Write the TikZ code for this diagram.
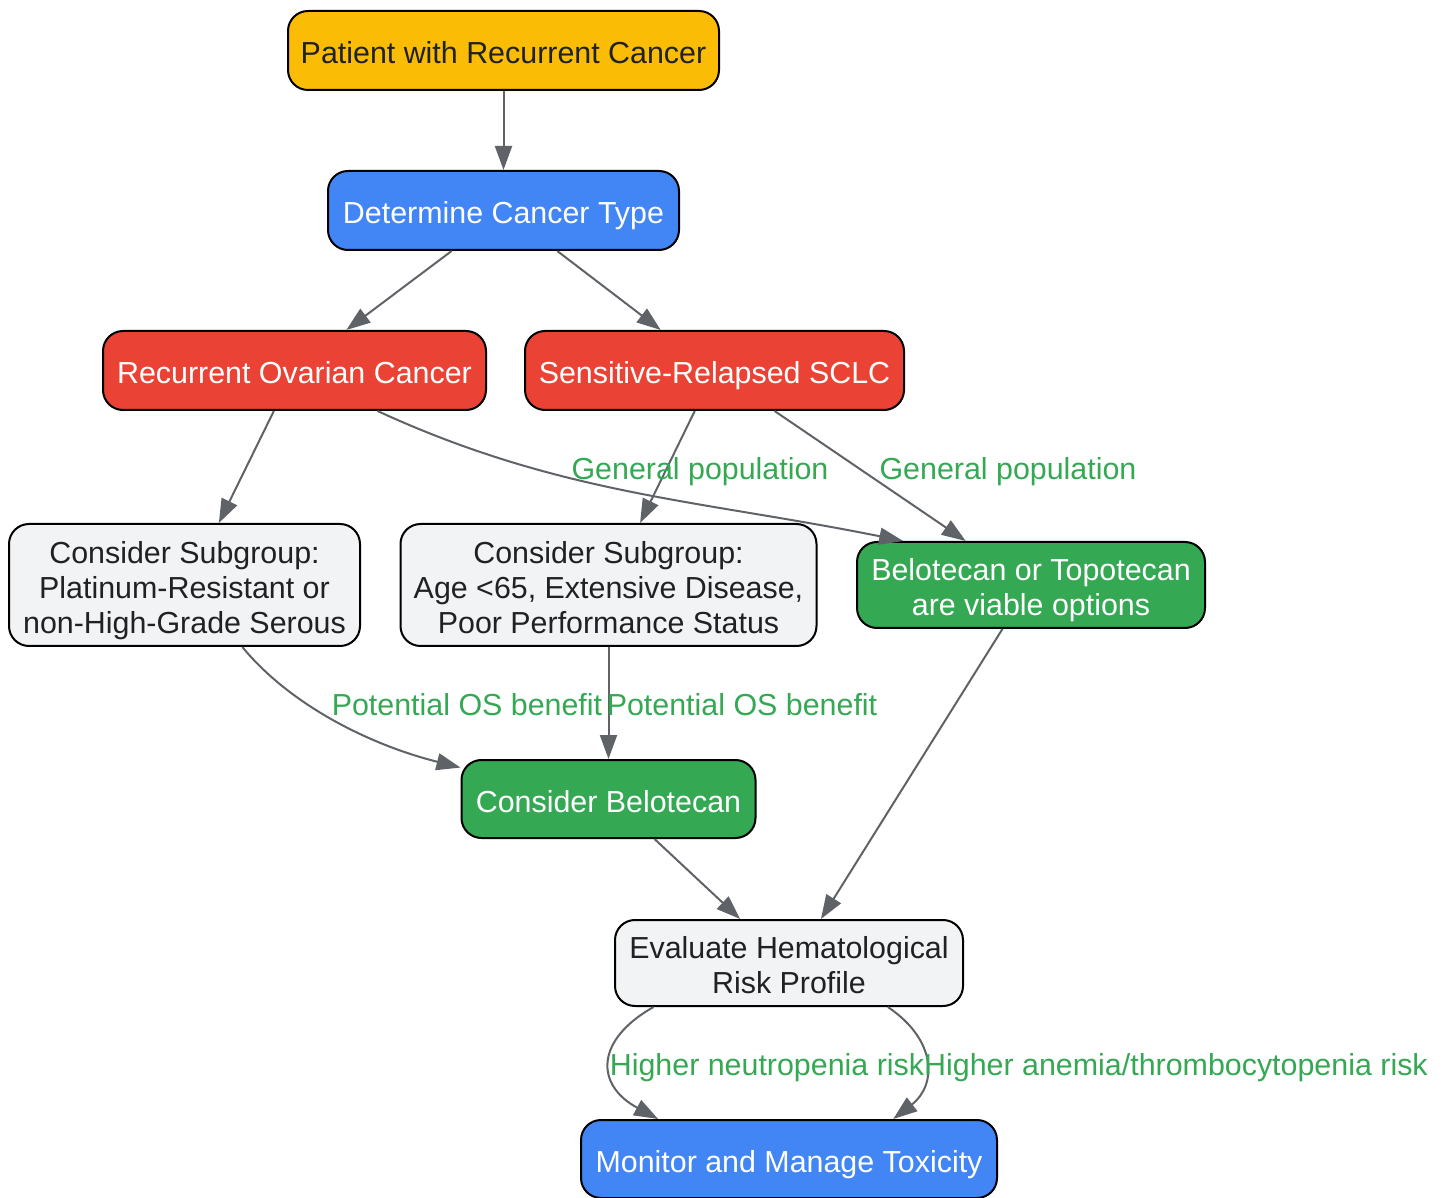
\documentclass[tikz,border=0pt]{standalone}
\usepackage{fontspec}
\setmainfont{Liberation Sans}
\usetikzlibrary{arrows.meta}
\definecolor{gyellow}{HTML}{FBBC05}
\definecolor{gblue}{HTML}{4285F4}
\definecolor{gred}{HTML}{EA4335}
\definecolor{ggreen}{HTML}{34A853}
\definecolor{ggray}{HTML}{F1F3F4}
\definecolor{edgegray}{HTML}{5F6368}
\definecolor{darktext}{HTML}{202124}
\newcommand{\topstrut}{\rule{0pt}{16.9pt}}
\newcommand{\botstrut}{\rule[-3.5pt]{0pt}{3.5pt}}
\begin{document}
\begin{tikzpicture}[x = 0.5pt, y = -0.5pt,
		box/.style = {draw = black, line width = 1pt, rounded corners = 10pt, align = center, inner sep = 0pt, font = \fontsize{15.2}{17.5}\selectfont, execute at begin node = \topstrut, execute at end node = \botstrut},
		flow/.style = {draw = edgegray, line width = 1pt, -{Triangle[length = 12pt, width = 8.5pt]}},
		lbl/.style = {text = ggreen, inner sep = 0pt, font = \fontsize{15.2}{17.5}\selectfont, execute at begin node = \rule[-3.5pt]{0pt}{17.9pt}}]
				\useasboundingbox (0, 0) rectangle (1448, 1198);
				
				\node [box, fill = gyellow, text = darktext, minimum width = 215.5pt, minimum height = 39.5pt] (patient) at (503.5, 50.5) {Patient with Recurrent Cancer};
				\node [box, fill = gblue, text = white, minimum width = 175.5pt, minimum height = 39.5pt] (type) at (503.5, 210.5) {Determine Cancer Type};
				\node [box, fill = gred, text = white, minimum width = 191.5pt, minimum height = 39.5pt] (ovarian) at (294.5, 370.5) {Recurrent Ovarian Cancer};
				\node [box, fill = gred, text = white, minimum width = 189.5pt, minimum height = 39.5pt] (sclc) at (714.5, 370.5) {Sensitive-Relapsed SCLC};
				\node [box, fill = ggray, text = darktext, minimum width = 175.5pt, minimum height = 61pt] (subov) at (184.5, 585) {\topstrut Consider Subgroup:\\Platinum-Resistant or\\non-High-Grade Serous\botstrut};
				\node [box, fill = ggray, text = darktext, minimum width = 208pt, minimum height = 61pt] (subsclc) at (608.5, 585) {\topstrut Consider Subgroup:\\Age <65, Extensive Disease,\\Poor Performance Status\botstrut};
				\node [box, fill = ggreen, text = white, minimum width = 174pt, minimum height = 43pt] (either) at (1031, 585) {\topstrut Belotecan or Topotecan\\are viable options\botstrut};
				\node [box, fill = ggreen, text = white, minimum width = 147pt, minimum height = 39pt] (belo) at (608.5, 799) {Consider Belotecan};
				\node [box, fill = ggray, text = darktext, minimum width = 174pt, minimum height = 43pt] (risk) at (789, 963) {\topstrut Evaluate Hematological\\Risk Profile\botstrut};
				\node [box, fill = gblue, text = white, minimum width = 208pt, minimum height = 39pt] (monitor) at (789, 1159) {Monitor and Manage Toxicity};
				
				\draw [flow] (patient.south) -- (type.north);
				\draw [flow] (type.-142) -- (ovarian.38);
				\draw [flow] (type.-37.5) -- (sclc.143);
				\draw [flow] (ovarian.-117.4) -- (subov.61.2);
				\draw [flow] (ovarian.-26.1) .. controls (560, 495) and (700, 500) .. (either.161.4);
				\draw [flow] (sclc.-116.3) -- (subsclc.63.1);
				\draw [flow] (sclc.-34.5) -- (either.146.9);
				\draw [flow] (subov.-47.7) .. controls (290, 705) and (370, 745) .. (belo.168.2);
				\draw [flow] (subsclc.south) -- (belo.north);
				\draw [flow] (either.-123.1) -- (risk.54.2);
				\draw [flow] (belo.-41.6) -- (risk.138.7);
				\draw [flow] (risk.-162.5) .. controls (595, 1040) and (595, 1085) .. (monitor.163.8);
				\draw [flow] (risk.-24.1) .. controls (937, 1040) and (937, 1085) .. (monitor.21.7);
				
				\node [lbl] (gen1) at (700, 469) {General population};
				\node [lbl] (gen2) at (1008, 469) {General population};
				\node [lbl] (os1) at (467, 705) {Potential OS benefit};
				\node [lbl] (os2) at (742, 705) {Potential OS benefit};
				\node [lbl] (neutro) at (767, 1065) {Higher neutropenia risk};
				\node [lbl] (anemia) at (1176, 1065) {Higher anemia/thrombocytopenia risk};
			\end{tikzpicture}
\end{document}
